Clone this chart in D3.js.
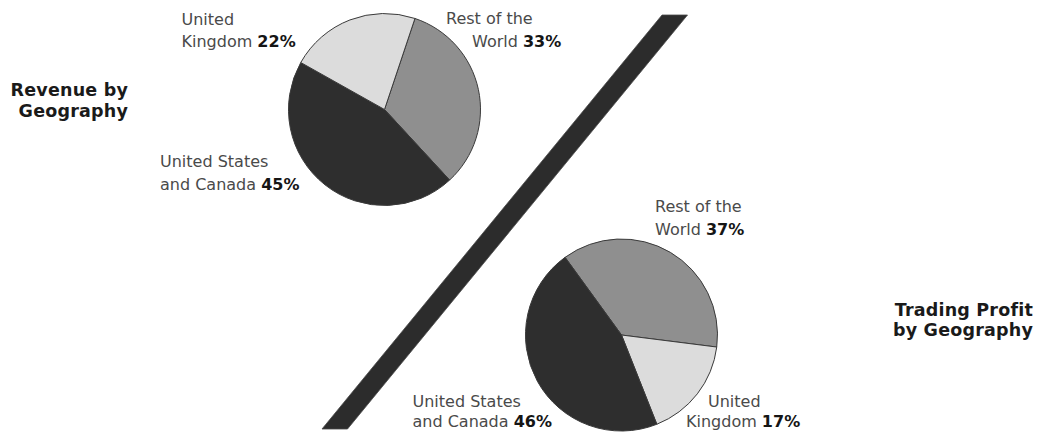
<!DOCTYPE html>
<html>
<head>
<meta charset="utf-8">
<script src="https://cdn.jsdelivr.net/npm/d3@7"></script>
<style>
  html, body { margin: 0; padding: 0; background: #fff; }
  svg { display: block; }
  text { font-family: "DejaVu Sans", "Liberation Sans", sans-serif; }
</style>
</head>
<body>
<svg id="chart" width="1040" height="434"></svg>
<script>
// Geographic split of revenue and trading profit (percent of total)
const regions = ["United States and Canada", "United Kingdom", "Rest of the World"];
const revenueShare = [45, 22, 33];
const profitShare = [46, 17, 37];
const panelTitles = [["Revenue by", "Geography"], ["Trading Profit", "by Geography"]];
// label lines per region: [first line, second line prefix]
const regionLabelLines = {
  "United States and Canada": ["United States", "and Canada "],
  "United Kingdom": ["United", "Kingdom "],
  "Rest of the World": ["Rest of the", "World "]
};

const W = 1040, H = 434;
const svg = d3.select("#chart");

const fillScale = d3.scaleOrdinal()
  .domain(regions)
  .range(["#2e2e2e", "#dcdcdc", "#8f8f8f"]);

// layout of the two pies
const pies = [
  {
    values: revenueShare,
    order: ["Rest of the World", "United States and Canada", "United Kingdom"],
    startDeg: 18.5,
    cx: 384.5, cy: 109.5, r: 96,
    title: panelTitles[0], titleX: 128, titleY: 96, titleLead: 20.5,
    labels: {
      "United Kingdom": { x: [181.5, 181.5], y: 25, lead: 21.5 },
      "Rest of the World": { x: [446, 472], y: 23.5, lead: 23 },
      "United States and Canada": { x: [160, 160], y: 166.5, lead: 23 }
    }
  },
  {
    values: profitShare,
    order: ["Rest of the World", "United Kingdom", "United States and Canada"],
    startDeg: -36,
    cx: 621.5, cy: 335, r: 96,
    title: panelTitles[1], titleX: 1033, titleY: 316, titleLead: 19.5,
    labels: {
      "Rest of the World": { x: [655, 655], y: 211.5, lead: 23.5 },
      "United States and Canada": { x: [412.5, 412.5], y: 406.5, lead: 20.5 },
      "United Kingdom": { x: [708, 686], y: 406.5, lead: 20.5 }
    }
  }
];

// diagonal divider band
const band = { topY: 15, botY: 429, topX: 662, botX: 322, width: 25.5 };
svg.append("path")
  .attr("d", d3.line()([
    [band.topX, band.topY],
    [band.topX + band.width, band.topY],
    [band.botX + band.width, band.botY],
    [band.botX, band.botY]
  ]) + "Z")
  .attr("fill", "#2c2c2c")
  .attr("stroke", "#4a4a4a")
  .attr("stroke-width", 0.8);

pies.forEach(p => {
  const data = p.order.map(name => ({ name, value: p.values[regions.indexOf(name)] }));
  const start = p.startDeg * Math.PI / 180;
  const arcs = d3.pie()
    .sort(null)
    .value(d => d.value)
    .startAngle(start)
    .endAngle(start + 2 * Math.PI)(data);
  const arc = d3.arc().innerRadius(0).outerRadius(p.r);

  const g = svg.append("g").attr("transform", `translate(${p.cx},${p.cy})`);
  g.selectAll("path")
    .data(arcs)
    .join("path")
    .attr("d", arc)
    .attr("fill", d => fillScale(d.data.name))
    .attr("stroke", "#3a3a3a")
    .attr("stroke-width", 1)
    .attr("stroke-linejoin", "round");

  // slice labels
  data.forEach(d => {
    const pos = p.labels[d.name];
    const lines = regionLabelLines[d.name];
    svg.append("text")
      .attr("x", pos.x[0]).attr("y", pos.y)
      .attr("font-size", 16).attr("fill", "#4a4a4a")
      .text(lines[0]);
    const t = svg.append("text")
      .attr("x", pos.x[1]).attr("y", pos.y + pos.lead)
      .attr("font-size", 16).attr("fill", "#4a4a4a");
    t.append("tspan").text(lines[1]);
    t.append("tspan")
      .attr("font-weight", "bold").attr("fill", "#151515")
      .text(d.value + "%");
  });

  // panel title
  p.title.forEach((line, i) => {
    svg.append("text")
      .attr("x", p.titleX).attr("y", p.titleY + i * p.titleLead)
      .attr("text-anchor", "end")
      .attr("font-size", 17.5).attr("font-weight", "bold")
      .attr("fill", "#1a1a1a")
      .attr("letter-spacing", 0.2)
      .text(line);
  });
});
</script>
</body>
</html>
